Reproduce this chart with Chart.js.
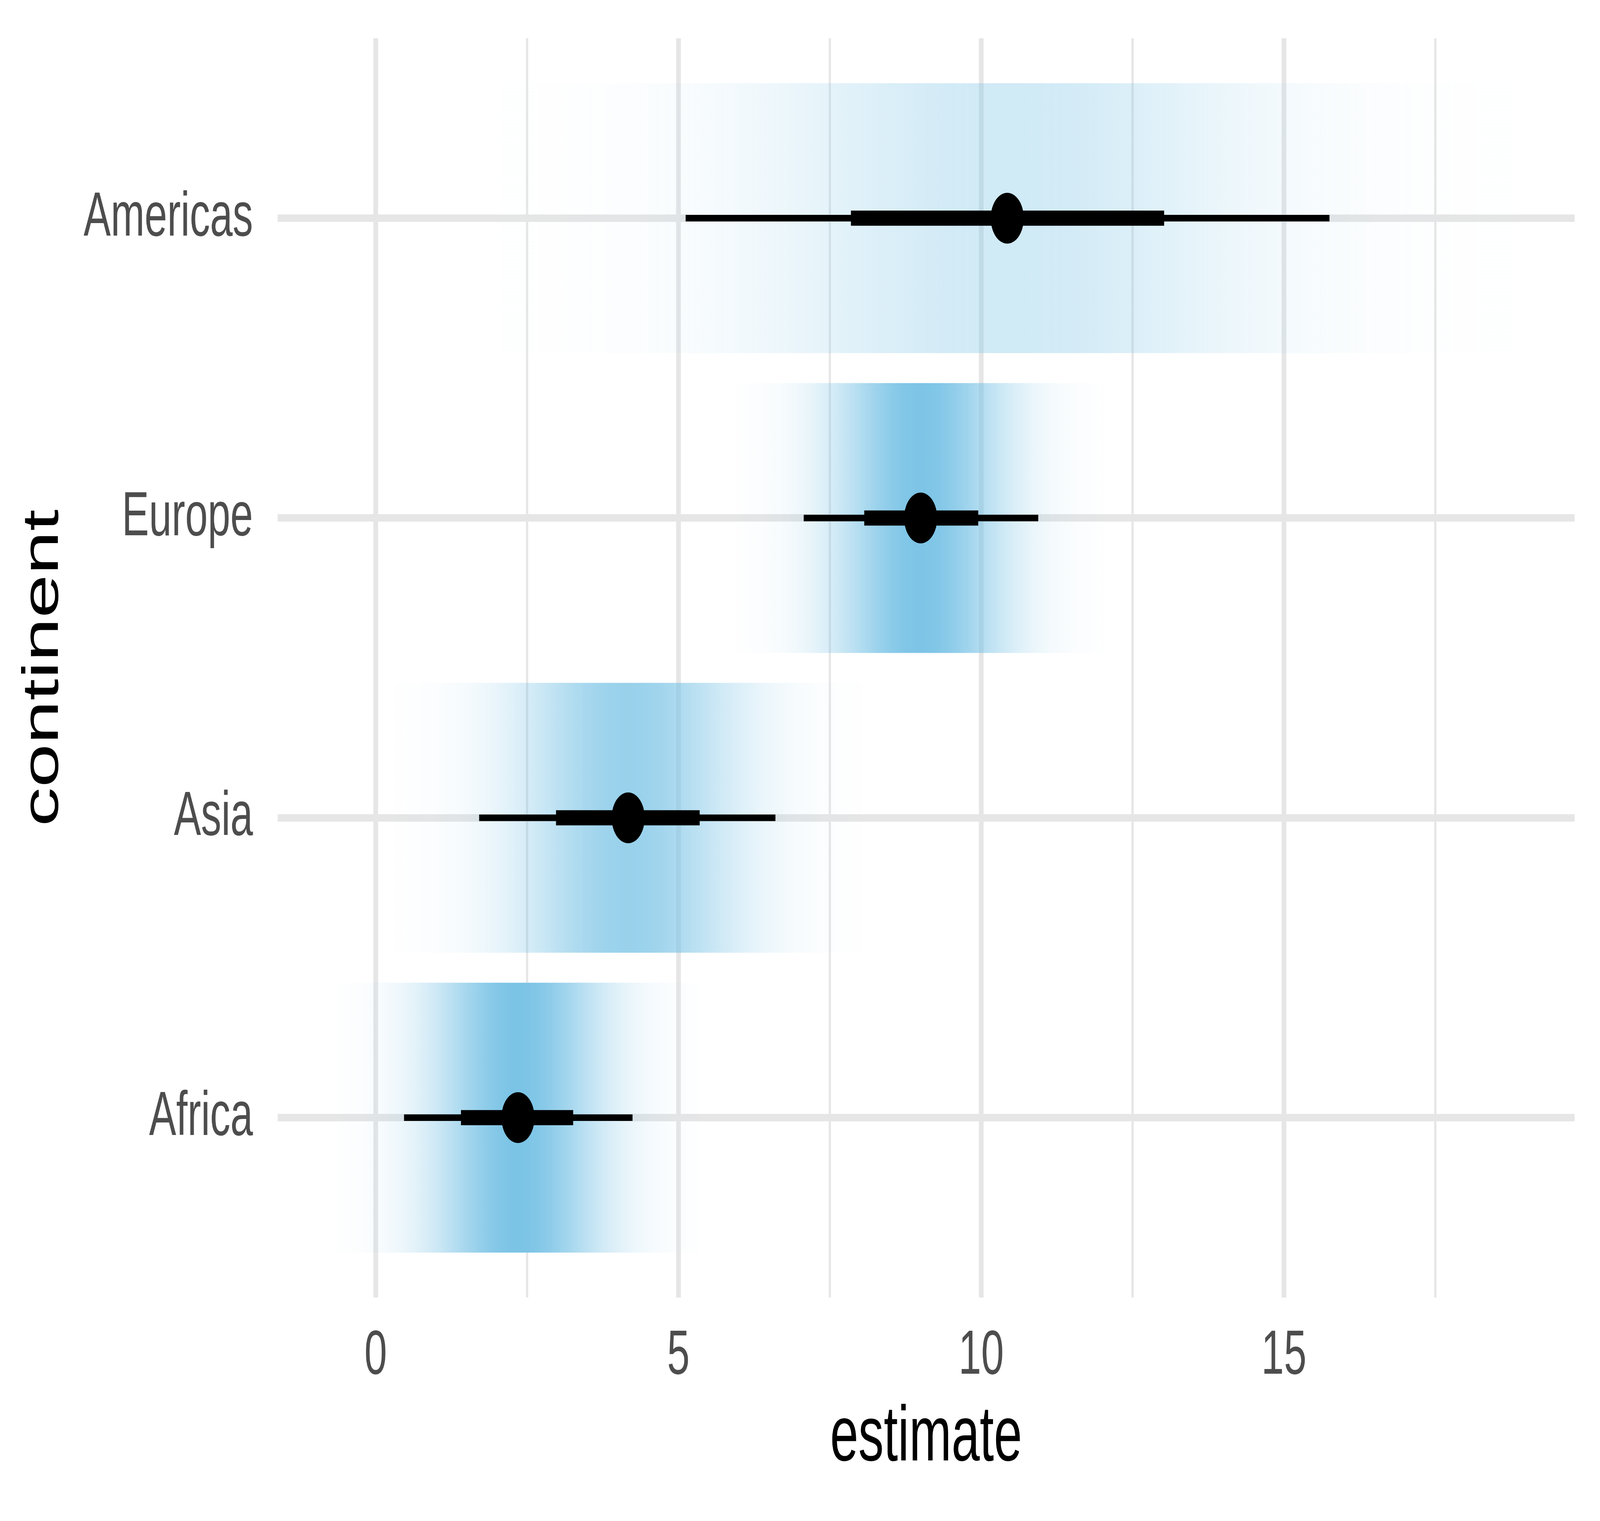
<!DOCTYPE html>
<html>
<head>
<meta charset="utf-8">
<title>estimate by continent</title>
<script src="https://cdn.jsdelivr.net/npm/chart.js@4.4.1/dist/chart.umd.min.js"></script>
<style>
  html, body { margin: 0; padding: 0; background: #fff; overflow: hidden; }
  /* drawing buffer stays 6300x3893; the element just fills whatever window we get */
  canvas { display: block; }
</style>
</head>
<body>
<canvas id="chart" width="6300" height="3893" style="width:100vw;height:100vh"></canvas>
<script>
/* ── data (bottom row first, as ggplot orders them) ── */
const categories = ['Africa', 'Asia', 'Europe', 'Americas'];
const medians    = [2.35, 4.17, 9.00, 10.43];
const thickLo    = [1.41, 2.98, 8.07, 7.85];    // 66% interval
const thickHi    = [3.26, 5.35, 9.95, 13.02];
const thinLo     = [0.47, 1.71, 7.07, 5.12];    // 95% interval
const thinHi     = [4.24, 6.60, 10.94, 15.75];
const spreads    = [0.97, 1.25, 0.98, 2.71];    // sd of each estimate (gradient shading)
const majorTicks = [0, 5, 10, 15];
const minorTicks = [2.5, 7.5, 12.5, 17.5];
const xRange     = [-1.62, 19.80];

/* slab runs over the .001–.999 quantiles of each distribution */
const Q999   = 3.09;
const slabLo = medians.map((m, i) => m - Q999 * spreads[i]);
const slabHi = medians.map((m, i) => m + Q999 * spreads[i]);
const minSd  = Math.min(...spreads);

const FONT     = '"Liberation Sans", Arial, Helvetica, sans-serif';
const GRID     = '#E6E6E6';
const SLAB_RGB = '124,196,230';

/* horizontal gradient whose opacity follows the density */
function slabFill (ctx) {
  const chart = ctx.chart;
  if (!chart.chartArea || ctx.dataIndex == null) return 'rgba(0,0,0,0)';
  const i  = ctx.dataIndex;
  const xs = chart.scales.x;
  const lo = slabLo[i], hi = slabHi[i];
  const g  = chart.ctx.createLinearGradient(xs.getPixelForValue(lo), 0, xs.getPixelForValue(hi), 0);
  const steps = 120;
  for (let k = 0; k <= steps; k++) {
    const t = k / steps;
    const z = (lo + (hi - lo) * t - medians[i]) / spreads[i];
    const a = Math.exp(-0.5 * z * z) * minSd / spreads[i];
    g.addColorStop(t, `rgba(${SLAB_RGB},${a.toFixed(4)})`);
  }
  return g;
}

/* keep chart.js from padding the plot for edge labels */
function noEdgePadding (s) {
  s.paddingTop = s.paddingBottom = s.paddingLeft = s.paddingRight = 0;
}

const rowIdx = categories.map((_, i) => i + 1);

new Chart(document.getElementById('chart'), {
  type: 'bar',
  data: {
    datasets: [
      {
        type: 'scatter', label: 'median', order: 0,
        data: rowIdx.map((y, i) => ({ x: medians[i], y })),
        pointRadius: 65, pointHoverRadius: 65,
        pointBackgroundColor: '#000', pointBorderWidth: 0
      },
      {
        label: '66%', order: 1, grouped: false,
        data: rowIdx.map((y, i) => ({ x: [thickLo[i], thickHi[i]], y })),
        backgroundColor: '#000', borderWidth: 0, barThickness: 38
      },
      {
        label: '95%', order: 2, grouped: false,
        data: rowIdx.map((y, i) => ({ x: [thinLo[i], thinHi[i]], y })),
        backgroundColor: '#000', borderWidth: 0, barThickness: 16
      },
      {
        label: 'slab', order: 3, grouped: false,
        data: rowIdx.map((y, i) => ({ x: [slabLo[i], slabHi[i]], y })),
        backgroundColor: slabFill, borderWidth: 0,
        barPercentage: 0.9, categoryPercentage: 1.0
      }
    ]
  },
  options: {
    indexAxis: 'y',
    responsive: false,
    devicePixelRatio: 1,
    animation: false,
    events: [],
    layout: { padding: { top: 98, right: 100, left: 0, bottom: 0 } },
    plugins: { legend: { display: false }, tooltip: { enabled: false } },
    scales: {
      x: {
        type: 'linear', axis: 'x', position: 'bottom',
        min: xRange[0], max: xRange[1], offset: false,
        afterBuildTicks: s => { s.ticks = [...majorTicks, ...minorTicks].sort((a, b) => a - b).map(v => ({ value: v })); },
        afterFit: s => { s.height = 572; noEdgePadding(s); },
        border: { display: false },
        grid: {
          offset: false,
          drawTicks: false,
          color: GRID,
          lineWidth: c => majorTicks.includes(c.tick && c.tick.value) ? 19 : 9
        },
        ticks: {
          padding: 55,
          color: '#4D4D4D',
          font: { family: FONT, size: 160 },
          maxRotation: 0, autoSkip: false,
          callback: v => majorTicks.includes(v) ? String(v) : ''
        },
        title: {
          display: true, text: 'estimate', color: '#000',
          font: { family: FONT, size: 200 },
          padding: { top: 0, bottom: 90 }
        }
      },
      y: {
        type: 'linear', axis: 'y', position: 'left',
        min: 0.4, max: 4.6, offset: false,
        afterBuildTicks: s => { s.ticks = rowIdx.map(v => ({ value: v })); },
        afterFit: s => { s.width = 1093; noEdgePadding(s); },
        border: { display: false },
        grid: { offset: false, drawTicks: false, color: GRID, lineWidth: 19 },
        ticks: {
          padding: 97,
          color: '#4D4D4D',
          font: { family: FONT, size: 160 },
          autoSkip: false,
          callback: v => categories[v - 1] || ''
        },
        title: {
          display: true, text: 'continent', color: '#000',
          font: { family: FONT, size: 200 },
          padding: { top: 53, bottom: 0 }
        }
      }
    }
  }
});
</script>
</body>
</html>
